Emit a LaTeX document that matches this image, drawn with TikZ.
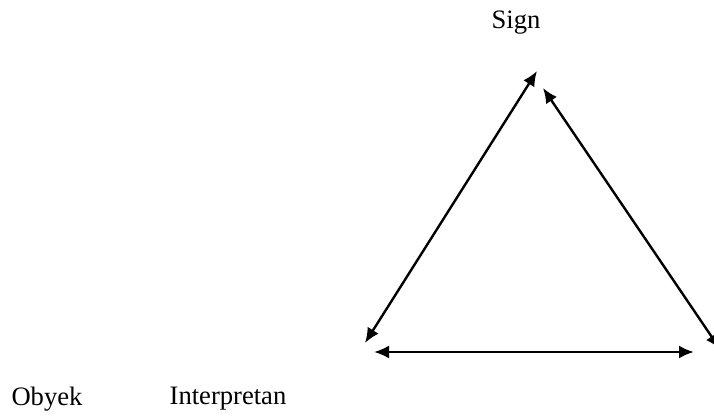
\documentclass[tikz,border=0pt]{standalone}
\usepackage{fontspec}
\setmainfont{Liberation Serif}
\usetikzlibrary{arrows.meta}
\begin{document}
\begin{tikzpicture}[x=0.5pt,y=-0.5pt,
  lbl/.style={font=\fontsize{13.3}{16}\selectfont, inner sep=0pt},
  link/.style={line width=1.2pt, {Latex[length=7.5pt,width=6.5pt]}-{Latex[length=7.5pt,width=6.5pt]}}]
\useasboundingbox (0,0) rectangle (714,417);
\clip (0,0) rectangle (714,417);
\node[lbl] (sign) at (516,23) {Sign};
\node[lbl] (obyek) at (47,399) {Obyek};
\node[lbl] (interp) at (228,399) {Interpretan};
\coordinate (t1) at (537,71);
\coordinate (b1) at (365,343);
\coordinate (t2) at (543,88);
\coordinate (b2) at (720,349);
\coordinate (h1) at (374,352);
\coordinate (h2) at (694,352);
\draw[link] (b1) -- (t1);
\draw[link] (b2) -- (t2);
\draw[link] (h1) -- (h2);
\end{tikzpicture}
\end{document}
